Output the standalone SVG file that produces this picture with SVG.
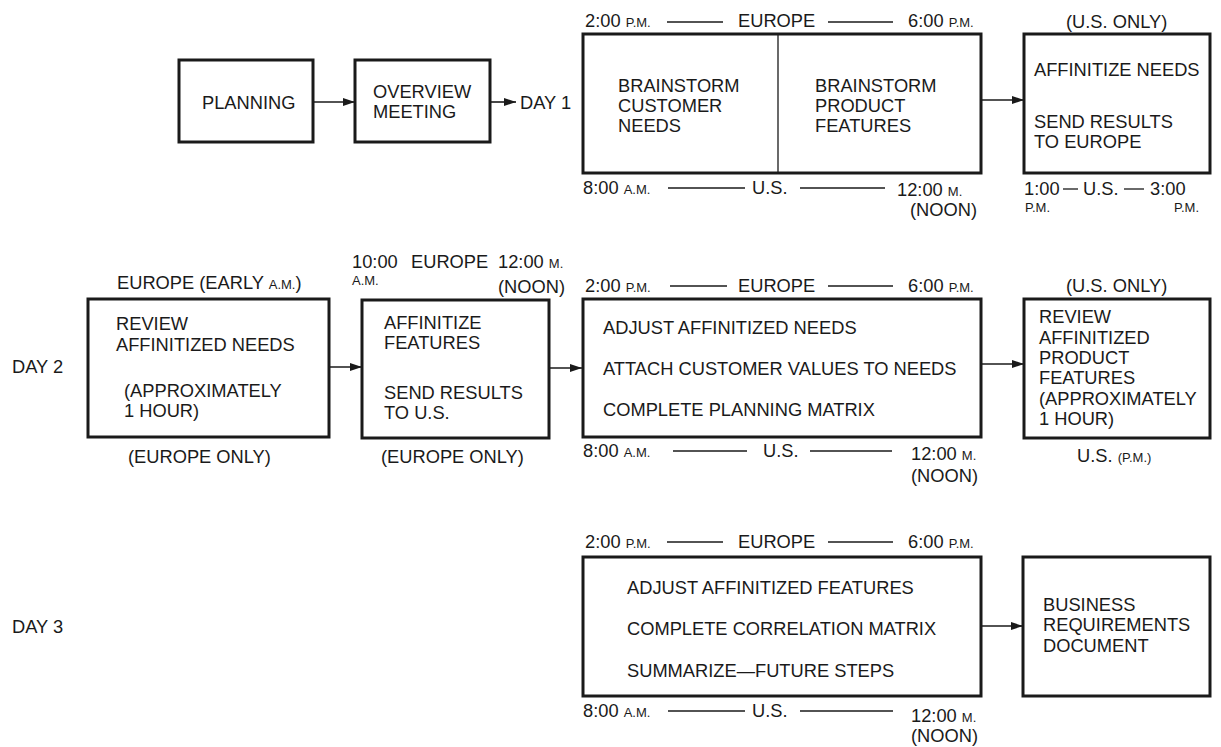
<svg xmlns="http://www.w3.org/2000/svg" width="1221" height="747" viewBox="0 0 1221 747">
<defs>
<marker id="ah" markerWidth="12" markerHeight="8" refX="12" refY="4" orient="auto" markerUnits="userSpaceOnUse">
<path d="M0,0 L12,4 L0,8 Z" fill="#1a1a1a"/>
</marker>
</defs>
<style>
text{font-family:"Liberation Sans",Arial,sans-serif;font-size:18.3px;fill:#1a1a1a}
.sm{font-size:13px}
.box{fill:#fff;stroke:#1a1a1a;stroke-width:3}
.rule{stroke:#1a1a1a;stroke-width:1.3;fill:none}
.conn{stroke:#1a1a1a;stroke-width:1.6;fill:none;marker-end:url(#ah)}
</style>
<rect width="1221" height="747" fill="#fff"/>

<g id="connectors">
<line class="conn" x1="313" y1="102" x2="355" y2="102"/>
<line class="conn" x1="490" y1="102" x2="516" y2="102"/>
<line class="conn" x1="981" y1="100" x2="1024" y2="100"/>
<line class="conn" x1="329" y1="367" x2="362" y2="367"/>
<line class="conn" x1="549" y1="368" x2="582" y2="368"/>
<line class="conn" x1="981" y1="364" x2="1024" y2="364"/>
<line class="conn" x1="981" y1="626" x2="1023" y2="626"/>
</g>

<g id="day-labels">
<text x="520" y="109">DAY 1</text>
<text x="12" y="373">DAY 2</text>
<text x="12" y="633">DAY 3</text>
</g>

<g id="planning">
<rect class="box" x="179" y="60" width="134" height="82"/>
<text x="202" y="109">PLANNING</text>
</g>

<g id="overview">
<rect class="box" x="355" y="60" width="135" height="82"/>
<text x="373" y="98">OVERVIEW</text>
<text x="373" y="118">MEETING</text>
</g>

<g id="day1-brainstorm">
<text x="585" y="27">2:00 <tspan class="sm">P.M.</tspan></text>
<line class="rule" x1="667" y1="22" x2="723" y2="22"/>
<text x="738" y="27">EUROPE</text>
<line class="rule" x1="828" y1="22" x2="893" y2="22"/>
<text x="908" y="27">6:00 <tspan class="sm">P.M.</tspan></text>
<rect class="box" x="583" y="34" width="398" height="139"/>
<line x1="778" y1="35" x2="778" y2="172" stroke="#1a1a1a" stroke-width="1.3"/>
<text x="618" y="92">BRAINSTORM</text>
<text x="618" y="112">CUSTOMER</text>
<text x="618" y="132">NEEDS</text>
<text x="815" y="92">BRAINSTORM</text>
<text x="815" y="112">PRODUCT</text>
<text x="815" y="132">FEATURES</text>
<text x="583" y="194">8:00 <tspan class="sm">A.M.</tspan></text>
<line class="rule" x1="668" y1="188" x2="745" y2="188"/>
<text x="752" y="194">U.S.</text>
<line class="rule" x1="800" y1="188" x2="885" y2="188"/>
<text x="897" y="196">12:00 <tspan class="sm">M.</tspan></text>
<text x="910" y="216">(NOON)</text>
</g>

<g id="day1-affinitize">
<text x="1066" y="28">(U.S. ONLY)</text>
<rect class="box" x="1024" y="34" width="186" height="139"/>
<text x="1034" y="76">AFFINITIZE NEEDS</text>
<text x="1034" y="128">SEND RESULTS</text>
<text x="1034" y="148">TO EUROPE</text>
<text x="1024" y="195">1:00</text>
<line class="rule" x1="1063" y1="189" x2="1078" y2="189"/>
<text x="1083" y="195">U.S.</text>
<line class="rule" x1="1124" y1="189" x2="1144" y2="189"/>
<text x="1150" y="195">3:00</text>
<text class="sm" x="1025" y="212">P.M.</text>
<text class="sm" x="1174" y="212">P.M.</text>
</g>

<g id="day2-review">
<text x="117" y="289">EUROPE (EARLY <tspan class="sm">A.M.</tspan>)</text>
<rect class="box" x="88" y="299" width="241" height="138"/>
<text x="116" y="330">REVIEW</text>
<text x="116" y="351">AFFINITIZED NEEDS</text>
<text x="124" y="397">(APPROXIMATELY</text>
<text x="124" y="417">1 HOUR)</text>
<text x="128" y="463">(EUROPE ONLY)</text>
</g>

<g id="day2-affinitize">
<text x="352" y="268">10:00</text>
<text class="sm" x="352" y="285">A.M.</text>
<text x="411" y="268">EUROPE</text>
<text x="498" y="268">12:00 <tspan class="sm">M.</tspan></text>
<text x="498" y="293">(NOON)</text>
<rect class="box" x="362" y="300" width="187" height="138"/>
<text x="384" y="329">AFFINITIZE</text>
<text x="384" y="349">FEATURES</text>
<text x="384" y="399">SEND RESULTS</text>
<text x="384" y="419">TO U.S.</text>
<text x="381" y="463">(EUROPE ONLY)</text>
</g>

<g id="day2-adjust">
<text x="585" y="292">2:00 <tspan class="sm">P.M.</tspan></text>
<line class="rule" x1="670" y1="286" x2="727" y2="286"/>
<text x="738" y="292">EUROPE</text>
<line class="rule" x1="828" y1="286" x2="893" y2="286"/>
<text x="908" y="292">6:00 <tspan class="sm">P.M.</tspan></text>
<rect class="box" x="583" y="299" width="398" height="138"/>
<text x="603" y="334">ADJUST AFFINITIZED NEEDS</text>
<text x="603" y="375">ATTACH CUSTOMER VALUES TO NEEDS</text>
<text x="603" y="416">COMPLETE PLANNING MATRIX</text>
<text x="583" y="457">8:00 <tspan class="sm">A.M.</tspan></text>
<line class="rule" x1="673" y1="451" x2="747" y2="451"/>
<text x="763" y="457">U.S.</text>
<line class="rule" x1="810" y1="451" x2="892" y2="451"/>
<text x="911" y="460">12:00 <tspan class="sm">M.</tspan></text>
<text x="911" y="482">(NOON)</text>
</g>

<g id="day2-review-features">
<text x="1066" y="292">(U.S. ONLY)</text>
<rect class="box" x="1024" y="299" width="186" height="139"/>
<text x="1039" y="323">REVIEW</text>
<text x="1039" y="344">AFFINITIZED</text>
<text x="1039" y="364">PRODUCT</text>
<text x="1039" y="384">FEATURES</text>
<text x="1039" y="405">(APPROXIMATELY</text>
<text x="1039" y="425">1 HOUR)</text>
<text x="1077" y="462">U.S. <tspan class="sm">(P.M.)</tspan></text>
</g>

<g id="day3-adjust">
<text x="585" y="548">2:00 <tspan class="sm">P.M.</tspan></text>
<line class="rule" x1="667" y1="542" x2="723" y2="542"/>
<text x="738" y="548">EUROPE</text>
<line class="rule" x1="828" y1="542" x2="893" y2="542"/>
<text x="908" y="548">6:00 <tspan class="sm">P.M.</tspan></text>
<rect class="box" x="583" y="557" width="398" height="139"/>
<text x="627" y="594">ADJUST AFFINITIZED FEATURES</text>
<text x="627" y="635">COMPLETE CORRELATION MATRIX</text>
<text x="627" y="677">SUMMARIZE—FUTURE STEPS</text>
<text x="583" y="717">8:00 <tspan class="sm">A.M.</tspan></text>
<line class="rule" x1="668" y1="711" x2="745" y2="711"/>
<text x="752" y="717">U.S.</text>
<line class="rule" x1="800" y1="711" x2="893" y2="711"/>
<text x="911" y="722">12:00 <tspan class="sm">M.</tspan></text>
<text x="911" y="742">(NOON)</text>
</g>

<g id="business-requirements">
<rect class="box" x="1023" y="557" width="187" height="139"/>
<text x="1043" y="611">BUSINESS</text>
<text x="1043" y="631">REQUIREMENTS</text>
<text x="1043" y="652">DOCUMENT</text>
</g>
</svg>
